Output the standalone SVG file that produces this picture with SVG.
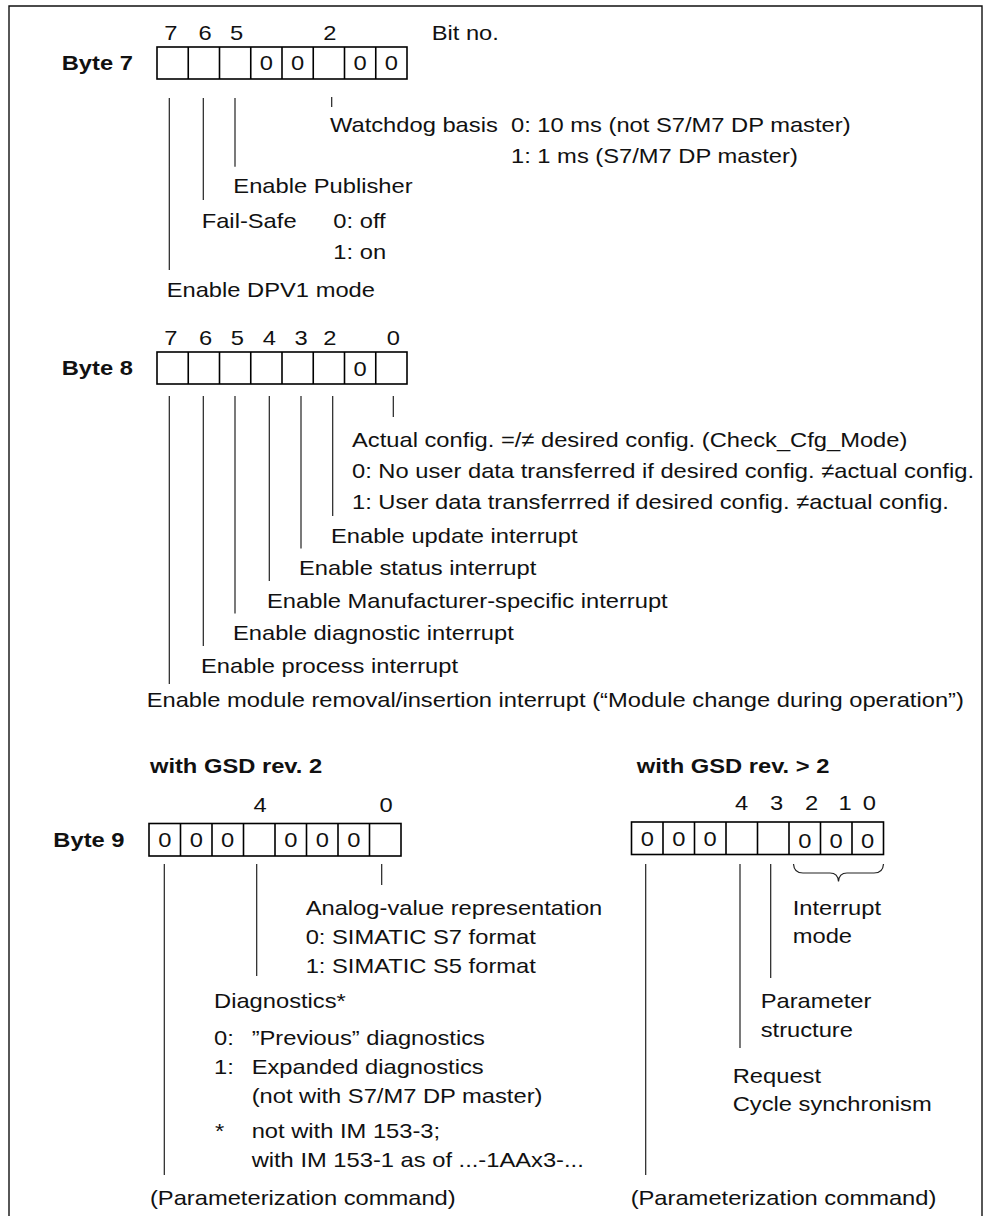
<svg xmlns="http://www.w3.org/2000/svg" width="990" height="1216" viewBox="0 0 990 1216">
  <style>
    .frame { fill: none; stroke: #111; stroke-width: 1.4; }
    .cells { fill: #fff; stroke: #000; stroke-width: 1.6; }
    .lead { fill: none; stroke: #222; stroke-width: 1.2; }
    text { font-family: "Liberation Sans", Arial, Helvetica, sans-serif; font-size: 21px; fill: #111; }
    .b { font-weight: bold; }
    .c { text-anchor: middle; }
  </style>

  <!-- outer frame, open at the bottom -->
  <path class="frame" d="M9,1216 V6 H982 V1216"/>

  <!-- Byte 7 -->
  <g id="byte7">
    <rect class="cells" x="157" y="47" width="250" height="32"/>
    <path class="cells" d="M188.25,47V79M219.5,47V79M250.75,47V79M282,47V79M313.25,47V79M344.5,47V79M375.75,47V79"/>
    <g transform="scale(1.13 1)">
      <text class="b" x="54.6" y="70.5">Byte 7</text>
      <text class="c" x="151.3" y="40">7</text>
      <text class="c" x="181.4" y="40">6</text>
      <text class="c" x="209.3" y="40">5</text>
      <text class="c" x="292" y="40">2</text>
      <text x="382" y="40">Bit no.</text>
      <text class="c" x="235.8" y="70.5">0</text>
      <text class="c" x="263.4" y="70.5">0</text>
      <text class="c" x="318.7" y="70.5">0</text>
      <text class="c" x="346.4" y="70.5">0</text>
      <text x="292" y="132">Watchdog basis</text>
      <text x="452.2" y="132">0: 10 ms (not S7/M7 DP master)</text>
      <text x="452.2" y="163">1: 1 ms (S7/M7 DP master)</text>
      <text x="206.5" y="193">Enable Publisher</text>
      <text x="178.5" y="228">Fail-Safe</text>
      <text x="295" y="228">0: off</text>
      <text x="295" y="259">1: on</text>
      <text x="147.5" y="297">Enable DPV1 mode</text>
    </g>
  </g>

  <!-- Byte 8 -->
  <g id="byte8">
    <rect class="cells" x="157" y="352" width="250" height="32"/>
    <path class="cells" d="M188.25,352V384M219.5,352V384M250.75,352V384M282,352V384M313.25,352V384M344.5,352V384M375.75,352V384"/>
    <g transform="scale(1.13 1)">
      <text class="b" x="54.6" y="375.5">Byte 8</text>
      <text class="c" x="151.3" y="345">7</text>
      <text class="c" x="182" y="345">6</text>
      <text class="c" x="210" y="345">5</text>
      <text class="c" x="238.3" y="345">4</text>
      <text class="c" x="266.4" y="345">3</text>
      <text class="c" x="292" y="345">2</text>
      <text class="c" x="348.1" y="345">0</text>
      <text class="c" x="318.7" y="376">0</text>
      <text x="311.5" y="447">Actual config. =/≠ desired config. (Check_Cfg_Mode)</text>
      <text x="311.5" y="478">0: No user data transferred if desired config. ≠actual config.</text>
      <text x="311.5" y="509">1: User data transferrred if desired config. ≠actual config.</text>
      <text x="292.9" y="543">Enable update interrupt</text>
      <text x="264.6" y="575.5">Enable status interrupt</text>
      <text x="236.3" y="608">Enable Manufacturer-specific interrupt</text>
      <text x="206.2" y="640.5">Enable diagnostic interrupt</text>
      <text x="177.9" y="673">Enable process interrupt</text>
      <text x="129.8" y="707">Enable module removal/insertion interrupt (“Module change during operation”)</text>
    </g>
  </g>

  <!-- Byte 9, GSD revision 2 -->
  <g id="byte9-rev2">
    <rect class="cells" x="149" y="823.5" width="252" height="32.5"/>
    <path class="cells" d="M180.5,823.5V856M212,823.5V856M243.5,823.5V856M275,823.5V856M306.5,823.5V856M338,823.5V856M369.5,823.5V856"/>
    <g transform="scale(1.13 1)">
      <text class="b" x="132.7" y="773">with GSD rev. 2</text>
      <text class="b" x="47.2" y="847">Byte 9</text>
      <text class="c" x="230.1" y="812">4</text>
      <text class="c" x="341.6" y="812">0</text>
      <text class="c" x="145.8" y="847">0</text>
      <text class="c" x="173.7" y="847">0</text>
      <text class="c" x="201.5" y="847">0</text>
      <text class="c" x="257.3" y="847">0</text>
      <text class="c" x="285.2" y="847">0</text>
      <text class="c" x="313.1" y="847">0</text>
      <text x="270.5" y="915">Analog-value representation</text>
      <text x="270.5" y="944">0: SIMATIC S7 format</text>
      <text x="270.5" y="973.5">1: SIMATIC S5 format</text>
      <text x="189.4" y="1008">Diagnostics*</text>
      <text x="189.4" y="1045">0:</text>
      <text x="222.7" y="1045">”Previous” diagnostics</text>
      <text x="189.4" y="1074">1:</text>
      <text x="222.7" y="1074">Expanded diagnostics</text>
      <text x="222.7" y="1103">(not with S7/M7 DP master)</text>
      <text x="190.3" y="1138">*</text>
      <text x="222.7" y="1138">not with IM 153-3;</text>
      <text x="222.7" y="1167">with IM 153-1 as of ...-1AAx3-...</text>
      <text x="132.7" y="1205">(Parameterization command)</text>
    </g>
  </g>

  <!-- Byte 9, GSD revision above 2 -->
  <g id="byte9-rev-gt2">
    <rect class="cells" x="631.5" y="822" width="252" height="32.5"/>
    <path class="cells" d="M663,822V854.5M694.5,822V854.5M726,822V854.5M757.5,822V854.5M789,822V854.5M820.5,822V854.5M852,822V854.5"/>
    <!-- brace grouping bits 2..0 -->
    <path class="lead" d="M793.5,864 Q794,873 803,873 H830 Q838,873 838.5,881.5 Q839,873 847,873 H874 Q883,873 883.5,864"/>
    <g transform="scale(1.13 1)">
      <text class="b" x="563.5" y="773">with GSD rev. &gt; 2</text>
      <text class="c" x="656.4" y="810">4</text>
      <text class="c" x="687.3" y="810">3</text>
      <text class="c" x="718.3" y="810">2</text>
      <text class="c" x="747.8" y="810">1</text>
      <text class="c" x="769.3" y="810">0</text>
      <text class="c" x="572.8" y="846">0</text>
      <text class="c" x="600.7" y="846">0</text>
      <text class="c" x="628.5" y="846">0</text>
      <text class="c" x="712.2" y="848">0</text>
      <text class="c" x="740" y="848">0</text>
      <text class="c" x="767.9" y="848">0</text>
      <text x="701.5" y="915">Interrupt</text>
      <text x="701.5" y="943.5">mode</text>
      <text x="673.2" y="1008">Parameter</text>
      <text x="673.2" y="1037">structure</text>
      <text x="648.4" y="1083">Request</text>
      <text x="648.4" y="1111">Cycle synchronism</text>
      <text x="558.1" y="1205">(Parameterization command)</text>
    </g>
  </g>

  <!-- leader lines from bit cells to their descriptions -->
  <g id="connectors" class="lead">
    <path d="M169.3,98V270M203.3,98V200M235,98V166.7M331.7,97V107"/>
    <path d="M169.3,396V684M203.3,396V646M235,396V613.5M269.3,396V581M301,396V548.5M332.7,396V516M393.3,396V417"/>
    <path d="M164.3,864V1175M256.7,864V976M381.7,864V885"/>
    <path d="M645.7,864V1175M740,864V1048M770.7,864V978"/>
  </g>
</svg>
